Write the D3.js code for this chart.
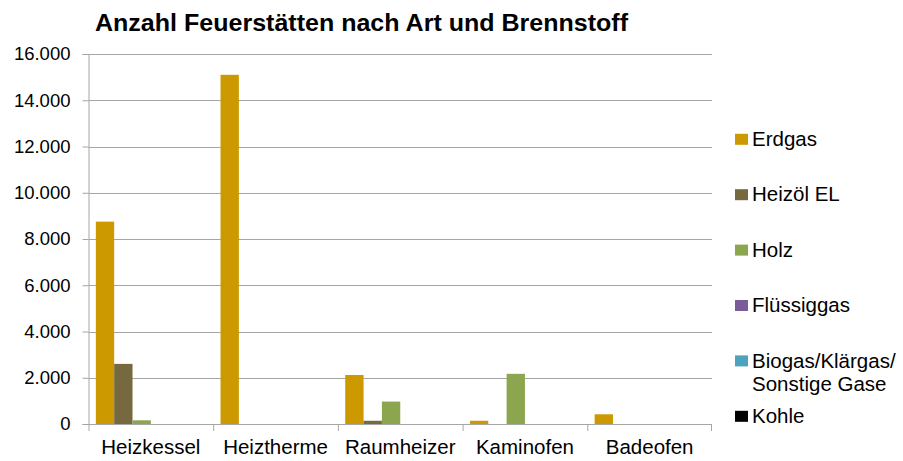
<!DOCTYPE html>
<html>
<head>
<meta charset="utf-8">
<script src="https://cdn.jsdelivr.net/npm/d3@7"></script>
<style>
  body { margin: 0; background: #fff; overflow: hidden; }
  text { font-family: "Liberation Sans", Arial, sans-serif; fill: #000; }
</style>
</head>
<body>
<div id="chart"></div>
<script>
// Data
const categories = ["Heizkessel", "Heiztherme", "Raumheizer", "Kaminofen", "Badeofen"];
const seriesNames = ["Erdgas", "Heizöl EL", "Holz", "Flüssiggas", "Biogas/Klärgas/ Sonstige Gase", "Kohle"];
const erdgas = [8750, 15100, 2120, 140, 420];
const heizoel = [2600, 0, 140, 0, 0];
const holz = [160, 0, 970, 2170, 0];
const fluessiggas = [0, 0, 0, 0, 0];
const biogas = [0, 0, 0, 0, 0];
const kohle = [0, 0, 0, 0, 0];
const yTicks = [0, 2000, 4000, 6000, 8000, 10000, 12000, 14000, 16000];
const colors = ["#cc9900", "#76693f", "#8ba64f", "#7a5c99", "#4ba3bd", "#000000"];

const seriesValues = [erdgas, heizoel, holz, fluessiggas, biogas, kohle];

// Chart dimensions
const width = 903;
const height = 461;
const margin = { top: 54, right: 191, bottom: 37, left: 88.5 };
const innerWidth = width - margin.left - margin.right;
const innerHeight = height - margin.top - margin.bottom;

const de = d3.formatLocale({ decimal: ",", thousands: ".", grouping: [3], currency: ["", "€"] });
const fmt = de.format(",");

const svg = d3.select("#chart")
  .append("svg")
  .attr("width", width)
  .attr("height", height)
  .style("display", "block");

const chart = svg.append("g")
  .attr("transform", `translate(${margin.left}, ${margin.top})`);

// Scales
const x0 = d3.scaleBand()
  .domain(categories)
  .range([0, innerWidth])
  .padding(0);

const x1 = d3.scaleBand()
  .domain(seriesNames)
  .range([0, x0.bandwidth()])
  .paddingInner(0)
  .paddingOuter(0.4);

const yScale = d3.scaleLinear()
  .domain([0, 16000])
  .range([innerHeight, 0]);

// Gridlines
chart.append("g")
  .selectAll("line")
  .data(yTicks.slice(1))
  .enter()
  .append("line")
  .attr("x1", 0)
  .attr("x2", innerWidth)
  .attr("y1", (d) => Math.round(yScale(d)) + 0.5)
  .attr("y2", (d) => Math.round(yScale(d)) + 0.5)
  .attr("stroke", "#a6a6a6")
  .attr("stroke-width", 1);

// Y axis
const yAxis = chart.append("g")
  .attr("class", "y-axis")
  .call(d3.axisLeft(yScale).tickValues(yTicks).tickSize(6).tickPadding(12).tickFormat((d) => fmt(d)))
  .attr("font-size", 18.5)
  .attr("font-family", "'Liberation Sans', Arial, sans-serif");
yAxis.select(".domain").attr("stroke", "#a6a6a6");
yAxis.selectAll(".tick line").attr("stroke", "#a6a6a6");
yAxis.selectAll("text").attr("fill", "#000");

// X axis: baseline plus boundary ticks between categories
const xAxis = chart.append("g")
  .attr("class", "x-axis")
  .attr("transform", `translate(0, ${innerHeight})`)
  .attr("font-size", 20.5)
  .attr("font-family", "'Liberation Sans', Arial, sans-serif");

xAxis.append("line")
  .attr("x1", 0)
  .attr("x2", innerWidth)
  .attr("y1", 0.5)
  .attr("y2", 0.5)
  .attr("stroke", "#a6a6a6");

xAxis.selectAll(".sep")
  .data(categories.concat(["end"]))
  .enter()
  .append("line")
  .attr("class", "sep")
  .attr("x1", (d, i) => i < categories.length ? x0(d) + 0.5 : innerWidth - 0.5)
  .attr("x2", (d, i) => i < categories.length ? x0(d) + 0.5 : innerWidth - 0.5)
  .attr("y1", 0)
  .attr("y2", 7)
  .attr("stroke", "#a6a6a6");

xAxis.selectAll(".cat")
  .data(categories)
  .enter()
  .append("text")
  .attr("class", "cat")
  .attr("x", (d) => x0(d) + x0.bandwidth() / 2)
  .attr("y", 30)
  .attr("text-anchor", "middle")
  .text((d) => d);

// Bars
const groups = chart.selectAll(".bar-group")
  .data(categories)
  .enter()
  .append("g")
  .attr("class", "bar-group")
  .attr("transform", (d) => `translate(${x0(d)}, 0)`);

groups.selectAll("rect")
  .data((c, ci) => seriesNames.map((s, si) => ({ series: s, idx: si, value: seriesValues[si][ci] })))
  .enter()
  .append("rect")
  .attr("x", (d) => x1(d.series))
  .attr("y", (d) => yScale(d.value))
  .attr("width", x1.bandwidth())
  .attr("height", (d) => innerHeight - yScale(d.value))
  .attr("fill", (d) => colors[d.idx]);

// Title (stretched to the original's width)
svg.append("text")
  .attr("x", 95)
  .attr("y", 31)
  .attr("font-size", 23)
  .attr("font-weight", "bold")
  .attr("textLength", 533)
  .attr("lengthAdjust", "spacingAndGlyphs")
  .text("Anzahl Feuerstätten nach Art und Brennstoff");

// Legend
const legend = svg.append("g")
  .attr("transform", `translate(735, 139.3)`);

const legendItem = legend.selectAll(".legend-item")
  .data(seriesNames)
  .enter()
  .append("g")
  .attr("class", "legend-item")
  .attr("transform", (d, i) => `translate(0, ${i * 55.4})`);

legendItem.append("rect")
  .attr("x", 0)
  .attr("y", -5.5)
  .attr("width", 13)
  .attr("height", 11)
  .attr("fill", (d, i) => colors[i]);

legendItem.each(function (d) {
  // break "Biogas/Klärgas/ Sonstige Gase" after the last slash
  const cut = d.indexOf("/ ");
  const lines = cut > 0 ? [d.slice(0, cut + 1), d.slice(cut + 2)] : [d];
  const t = d3.select(this).append("text")
    .attr("x", 17)
    .attr("y", 6.7)
    .attr("font-size", 20.5);
  lines.forEach((ln, i) => {
    t.append("tspan")
      .attr("x", 17)
      .attr("dy", i === 0 ? 0 : 23)
      .text(ln);
  });
});
</script>
</body>
</html>
